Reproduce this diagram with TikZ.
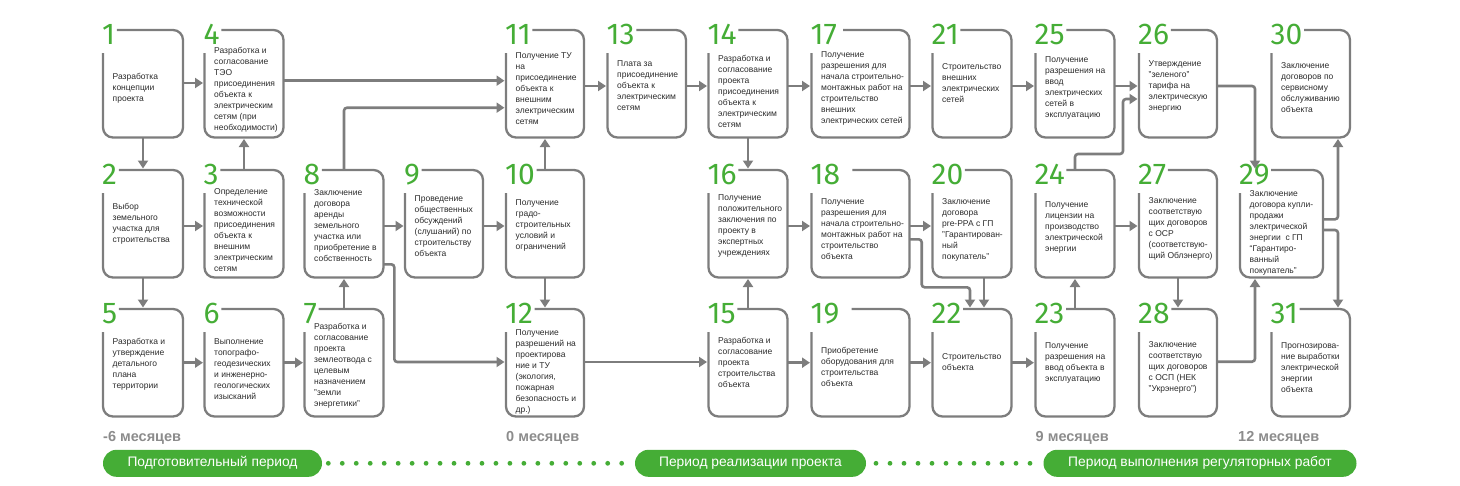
\documentclass[tikz,border=0pt]{standalone}
\usepackage{fontspec}
\setmainfont{Liberation Sans}
\newfontfamily\numfont{Fira Sans}
\usetikzlibrary{arrows.meta}
\definecolor{grn}{HTML}{45AD36}
\definecolor{lgray}{HTML}{7D7D7D}
\definecolor{txt}{HTML}{2B2B2B}
\definecolor{mgray}{HTML}{8C8C8C}
\tikzset{
 boxn/.style={rectangle, inner sep=0pt, outer sep=0pt},
 boxline/.style={draw=lgray, line width=2.3pt, rounded corners=10pt},
 btext/.style={anchor=west, align=left, inner sep=0pt, font=\fontsize{8.5}{11}\selectfont, text=txt},
 numst/.style={anchor=base west, inner sep=0pt, text depth=0pt, font=\numfont\fontsize{30}{30}\selectfont, text=grn},
 arr/.style={draw=lgray, line width=2.6pt, rounded corners=3pt, -{Triangle[length=8pt,width=10pt]}, shorten >=1.5pt},
 month/.style={anchor=base west, inner sep=0pt, font=\bfseries\fontsize{14.5}{14.5}\selectfont, text=mgray},
 pill/.style={fill=grn, rounded corners=13.5pt, inner sep=0pt, text=white, font=\fontsize{13.8}{13.8}\selectfont, minimum height=27pt},
}
% #1 number, #2 left, #3 top, #4 width, #5 text dy, #6 gap, #7 text
\newcommand\mybox[7]{%
 \node[boxn, minimum width=#4pt, minimum height=107.5pt] (b#1) at ({#2+#4/2},{#3+53.75}) {};
 \node[numst] (n#1) at ({#2-1},{#3+14.3}) {#1};
 \draw[boxline] ([xshift=#6pt]n#1.east |- b#1.north) -- (b#1.north east) -- (b#1.south east) -- (b#1.south west) -- ([yshift=-23pt]b#1.north west);
 \node[btext] (t#1) at ({#2+9.5},{#3+#5}) {#7};
}
\begin{document}
\begin{tikzpicture}[x=1pt,y=-1pt]
\useasboundingbox (0,0) rectangle (1460,485);
% top row
\mybox{1}{103}{30}{80}{58}{1.5}{Разработка\\концепции\\проекта}
\mybox{4}{204.5}{30}{79}{60}{1.5}{Разработка и\\согласование\\ТЭО\\присоединения\\объекта к\\электрическим\\сетям (при\\необходимости)}
\mybox{11}{506}{30}{78}{58.5}{1.5}{Получение ТУ\\на\\присоединение\\объекта к\\внешним\\электрическим\\сетям}
\mybox{13}{607.5}{30}{78.5}{56}{1.5}{Плата за\\присоединение\\объекта к\\электрическим\\сетям}
\mybox{14}{708.5}{30}{79}{61.5}{1.5}{Разработка и\\согласование\\проекта\\присоединения\\объекта к\\электрическим\\сетям}
\mybox{17}{811.5}{30}{98}{58.5}{6}{Получение\\разрешения для\\начала строительно-\\монтажных работ на\\строительство\\внешних\\электрических сетей}
\mybox{21}{932.5}{30}{79}{53}{1.5}{Строительство\\внешних\\электрических\\сетей}
\mybox{25}{1035.5}{30}{79}{58}{1.5}{Получение\\разрешения на\\ввод\\электрических\\сетей в\\эксплуатацию}
\mybox{26}{1139}{30}{78}{56.5}{1.5}{Утверждение\\"зеленого"\\тарифа на\\электрическую\\энергию}
\mybox{30}{1271.5}{30}{78.5}{57.5}{1.5}{Заключение\\договоров по\\сервисному\\обслуживанию\\объекта}
% middle row
\mybox{2}{103}{170}{80}{54}{1.5}{Выбор\\земельного\\участка для\\строительства}
\mybox{3}{204.5}{170}{79}{60.5}{1.5}{Определение\\технической\\возможности\\присоединения\\объекта к\\внешним\\электрическим\\сетям}
\mybox{8}{304.5}{170}{79}{55.5}{1.5}{Заключение\\договора\\аренды\\земельного\\участка или\\приобретение в\\собственность}
\mybox{9}{405}{170}{78}{56}{1.5}{Проведение\\общественных\\обсуждений\\(слушаний) по\\строительству\\объекта}
\mybox{10}{506}{170}{78}{55.5}{1.5}{Получение\\градо-\\строительных\\условий и\\ограничений}
\mybox{16}{708.5}{170}{79}{56}{1.5}{Получение\\положительного\\заключения по\\проекту в\\экспертных\\учреждениях}
\mybox{18}{811.5}{170}{98}{59}{12}{Получение\\разрешения для\\начала строительно-\\монтажных работ на\\строительство\\объекта}
\mybox{20}{932.5}{170}{79}{59.5}{1.5}{Заключение\\договора\\pre-PPA с ГП\\"Гарантирован-\\ный\\покупатель"}
\mybox{24}{1035.5}{170}{79}{57.5}{1.5}{Получение\\лицензии на\\производство\\электрической\\энергии}
\mybox{27}{1139}{170}{78}{59}{1.5}{Заключение\\соответствую\\щих договоров\\с ОСР\\(соответствую-\\щий Облэнерго)}
\mybox{29}{1240}{170}{83}{62.5}{1.5}{Заключение\\договора купли-\\продажи\\электрической\\энергии\ \ с ГП\\“Гарантиро-\\ванный\\покупатель”}
% bottom row
\mybox{5}{103}{309}{80}{55.5}{1.5}{Разработка и\\утверждение\\детального\\плана\\территории}
\mybox{6}{204.5}{309}{79}{60}{1.5}{Выполнение\\топографо-\\геодезических\\и инженерно-\\геологических\\изысканий}
\mybox{7}{304.5}{309}{79}{57}{1.5}{Разработка и\\согласование\\проекта\\землеотвода с\\целевым\\назначением\\"земли\\энергетики"}
\mybox{12}{506}{309}{78}{62.5}{1.5}{Получение\\разрешений на\\проектирова\\ние и ТУ\\(экология,\\пожарная\\безопасность и\\др.)}
\mybox{15}{708.5}{309}{79}{53}{1.5}{Разработка и\\согласование\\проекта\\строительства\\объекта}
\mybox{19}{811.5}{309}{98}{57.7}{12}{Приобретение\\оборудования для\\строительства\\объекта}
\mybox{22}{932.5}{309}{79}{53.5}{1.5}{Строительство\\объекта}
\mybox{23}{1035.5}{309}{79}{54}{1.5}{Получение\\разрешения на\\ввод объекта в\\эксплуатацию}
\mybox{28}{1139}{309}{78}{58.5}{1.5}{Заключение\\соответствую\\щих договоров\\с ОСП (НЕК\\"Укрэнерго")}
\mybox{31}{1271.5}{309}{78.5}{58.5}{1.5}{Прогнозирова-\\ние выработки\\электрической\\энергии\\объекта}
% connectors
\draw[arr] (b1.east |- 0,83) -- (b4.west |- 0,83);
\draw[arr] (b1.south) -- (b2.north);
\draw[arr] (b2.east |- 0,226) -- (b3.west |- 0,226);
\draw[arr] (b2.south) -- (b5.north);
\draw[arr] (b3.north) -- (b4.south);
\draw[arr] (b5.east |- 0,362.7) -- (b6.west |- 0,362.7);
\draw[arr] (b6.east |- 0,362.7) -- (b7.west |- 0,362.7);
\draw[arr] (b7.north) -- (b8.south);
\draw[arr] (b4.east |- 0,80.7) -- (b11.west |- 0,80.7);
\draw[arr] (b8.north) |- (b11.west |- 0,107.7);
\draw[arr] (b8.east |- 0,226) -- (b9.west |- 0,226);
\draw[arr] (b8.east |- 0,264.3) -- (394.3,264.3) |- (b12.west |- 0,362);
\draw[arr] (b9.east |- 0,226) -- (b10.west |- 0,226);
\draw[arr] (b10.north) -- (b11.south);
\draw[arr] (b10.south) -- (b12.north);
\draw[arr] (b11.east |- 0,86) -- (b13.west |- 0,86);
\draw[arr] (b13.east |- 0,86) -- (b14.west |- 0,86);
\draw[arr] (b12.east |- 0,362) -- (b15.west |- 0,362);
\draw[arr] (b14.south) -- (b16.north);
\draw[arr] (b15.north) -- (b16.south);
\draw[arr] (b14.east |- 0,86) -- (b17.west |- 0,86);
\draw[arr] (b17.east |- 0,86) -- (b21.west |- 0,86);
\draw[arr] (b21.east |- 0,86) -- (b25.west |- 0,86);
\draw[arr] (b25.east |- 0,86) -- (b26.west |- 0,86);
\draw[arr] (b16.east |- 0,226) -- (b18.west |- 0,226);
\draw[arr] (b18.east |- 0,226) -- (b20.west |- 0,226);
\draw[arr] (b18.east |- 0,239.3) -- (921.7,239.3) -- (921.7,287.3) -| (b22.north -| 970,0);
\draw[arr] (b20.south -| 984,0) -- (b22.north -| 984,0);
\draw[arr] (b15.east |- 0,362.7) -- (b19.west |- 0,362.7);
\draw[arr] (b19.east |- 0,362.7) -- (b22.west |- 0,362.7);
\draw[arr] (b22.east |- 0,362.7) -- (b23.west |- 0,362.7);
\draw[arr] (b23.north) -- (b24.south);
\draw[arr] (b24.north) -- (b24.north |- 0,154) -| (1123,99) -- (b26.west |- 0,99);
\draw[arr] (b24.east |- 0,226) -- (b27.west |- 0,226);
\draw[arr] (b27.south) -- (b28.north);
\draw[arr] (b28.east |- 0,361.7) -| (b29.south -| 1255,0);
\draw[arr] (b26.east |- 0,86) -| (b29.north -| 1255,0);
\draw[arr] (b29.east |- 0,219.3) -| (b30.south -| 1338,0);
\draw[arr] (b29.east |- 0,230) -| (b31.north -| 1338,0);
% months
\node[month] (m1) at (103,441.7) {-6 месяцев};
\node[month] (m2) at (506,441.7) {0 месяцев};
\node[month] (m3) at (1035.5,441.7) {9 месяцев};
\node[month] (m4) at (1238,441.7) {12 месяцев};
% periods
\node[pill, minimum width=219pt] (p1) at (212.5,463.3) {Подготовительный период};
\node[pill, minimum width=231pt] (p2) at (750.5,463.3) {Период реализации проекта};
\node[pill, minimum width=313pt] (p3) at (1200,463.3) {Период выполнения регуляторных работ};
\foreach \i in {0,...,21} \fill[grn] ({328.3+\i*13.97},463.3) circle (2.4pt);
\foreach \i in {0,...,11} \fill[grn] ({876+\i*14},463.3) circle (2.4pt);
\end{tikzpicture}
\end{document}
